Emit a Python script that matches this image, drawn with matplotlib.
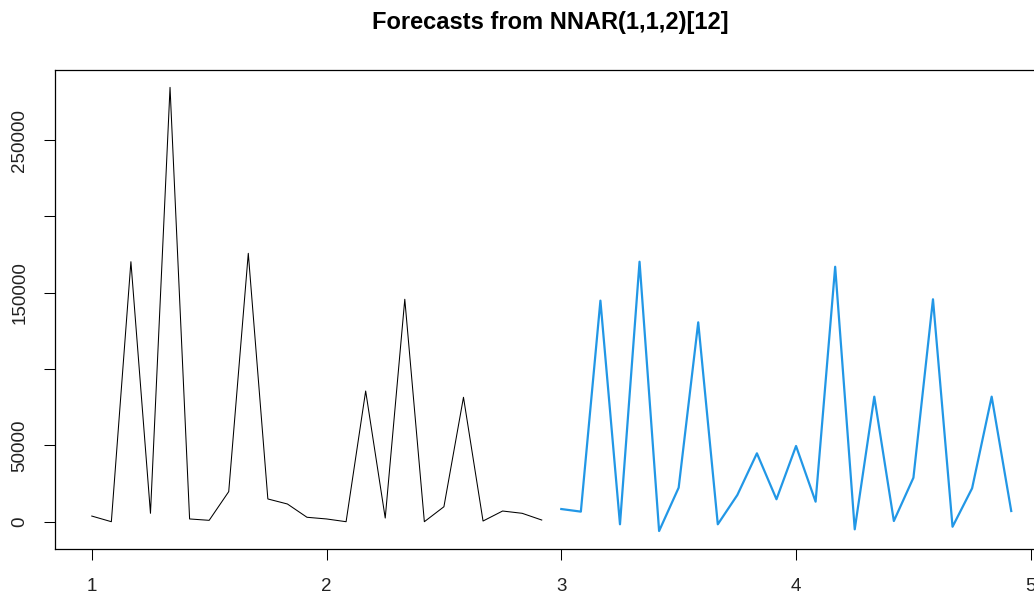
import matplotlib
matplotlib.use("Agg")
import matplotlib.pyplot as plt
import numpy as np

# observed series (monthly, freq 12, starting at 1)
obs_start = 1.0
obs_values = [3700, 0, 170300, 5500, 284500, 1800, 900, 19700,
              175800, 14900, 11600, 2900, 1800, 0, 85600, 2400,
              145700, 0, 9800, 81500, 450, 7000, 5500, 1100]

# NNAR forecast (starting at 3)
fc_start = 3.0
fc_values = [8300, 6600, 144800, -1700, 170300, -6100, 22300, 130600,
             -1700, 17500, 44800, 14700, 49600, 13100, 167000, -5000,
             81900, 450, 28800, 145700, -3300, 21900, 81900, 7000]

y_ticks = [0, 50000, 100000, 150000, 200000, 250000]
y_labels = ["0", "50000", "", "150000", "", "250000"]
x_ticks = [1, 2, 3, 4, 5]

plt.rcParams['font.family'] = ['Liberation Sans', 'DejaVu Sans']

fig = plt.figure(figsize=(10.34, 5.95), dpi=100)
ax = fig.add_axes([55 / 1034, 46 / 595, (1048 - 55) / 1034, (549 - 70) / 595])

x_obs = obs_start + np.arange(len(obs_values)) / 12
x_fc = fc_start + np.arange(len(fc_values)) / 12
ax.plot(x_obs, obs_values, color="black", lw=0.75)
ax.plot(x_fc, fc_values, color="#2297E6", lw=1.6)

ax.set_xlim(0.8433, 5.0733)
ax.set_ylim(-17880, 295880)
ax.set_xticks(x_ticks)
ax.set_xticklabels([str(t) for t in x_ticks])
ax.set_yticks(y_ticks)
ax.set_yticklabels(y_labels, rotation=90, va="center")

ax.tick_params(direction="out", length=8.2, width=0.75, colors="black",
               labelsize=13.5, labelcolor="#222222")
ax.tick_params(axis="x", pad=13)
ax.tick_params(axis="y", pad=11)
for s in ax.spines.values():
    s.set_linewidth(0.9)

fig.text(550 / 1034, 1 - 22 / 595, "Forecasts from NNAR(1,1,2)[12]",
         ha="center", va="center", fontsize=17, fontweight="bold")

fig.savefig("out.png", dpi=100)
